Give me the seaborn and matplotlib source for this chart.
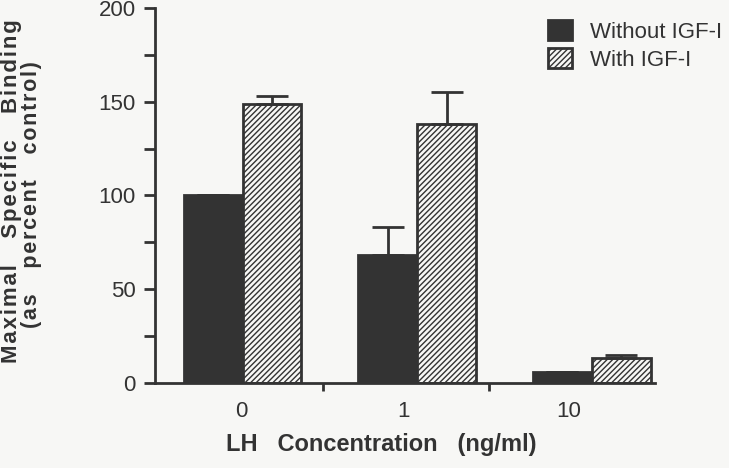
import pandas as pd
import seaborn as sns
from matplotlib import pyplot as plt
from matplotlib.ticker import MultipleLocator, FixedLocator

# Data
concentrations = ['0', '1', '10']
without_igf = [100, 68, 6]
with_igf = [149, 138, 13]
without_err = [0, 15, 0]
with_err = [4, 17, 2]
conditions = ['Without IGF-I', 'With IGF-I']

df = pd.DataFrame({
    'LH': concentrations * 2,
    'Binding': without_igf + with_igf,
    'Condition': [conditions[0]] * 3 + [conditions[1]] * 3,
})
errs = {conditions[0]: without_err, conditions[1]: with_err}


def spaced(text, sep, gap='  '):
    # letter-spaced text, like the typeset original
    words = [sep.join(w) for w in text.split(' ')]
    return (sep + gap).join(words)


sns.set_style('ticks')
plt.rcParams['font.family'] = ['Liberation Sans', 'DejaVu Sans']
plt.rcParams['hatch.linewidth'] = 1.0
plt.rcParams['hatch.color'] = '#333333'

ink = '#333333'
paper = '#f7f7f5'

fig = plt.figure(figsize=(7.29, 4.68), dpi=100)
fig.patch.set_facecolor(paper)
ax = fig.add_axes([0.213, 0.182, 0.685, 0.801])
ax.set_facecolor(paper)

sns.barplot(data=df, x='LH', y='Binding', hue='Condition', hue_order=conditions,
            palette=[ink, paper], width=0.674, gap=0,
            edgecolor=ink, linewidth=2, saturation=1, ax=ax)

# hatch the "with IGF-I" bars and add upper error bars
for cont, cond in zip(ax.containers, conditions):
    xs = [p.get_x() + p.get_width() / 2 for p in cont.patches]
    hs = [p.get_height() for p in cont.patches]
    if cond == conditions[1]:
        for p in cont.patches:
            p.set_hatch('//////')
    ax.errorbar(xs, hs, yerr=[[0] * 3, errs[cond]], fmt='none', ecolor=ink,
                elinewidth=2, capsize=11.5, capthick=2, zorder=1)

ax.set_ylim(0, 200)
ax.set_xlim(-0.5, 2.36)
ax.yaxis.set_major_locator(MultipleLocator(50))
ax.yaxis.set_minor_locator(MultipleLocator(25))
ax.xaxis.set_minor_locator(FixedLocator([0.46, 1.41]))
ax.set_xticks([-0.01, 0.92, 1.87])
ax.set_xticklabels(concentrations)
ax.tick_params(axis='x', which='major', length=0, pad=13, labelsize=16, colors=ink)
ax.tick_params(axis='x', which='minor', length=6, width=2, color=ink)
ax.tick_params(axis='y', which='both', length=8, width=2, labelsize=16,
               colors=ink, pad=6)
for s in ['left', 'bottom']:
    ax.spines[s].set_linewidth(2)
    ax.spines[s].set_color(ink)
sns.despine(ax=ax)

ax.set_xlabel('LH   Concentration   (ng/ml)', fontsize=17,
              fontweight='bold', color=ink)
ax.xaxis.set_label_coords(0.452, -0.135)
ax.set_ylabel('')

# two-line y label, placed as two rotated texts anchored on their baselines
fig.text(17.5 / 729, 1 - 191 / 468, spaced('Maximal Specific Binding', '\u200a', '    '),
         rotation=90, rotation_mode='anchor', ha='center', va='baseline',
         fontsize=16, fontweight='bold', color=ink)
fig.text(37.5 / 729, 1 - 195 / 468, spaced('(as percent control)', '\u200a', '    '),
         rotation=90, rotation_mode='anchor', ha='center', va='baseline',
         fontsize=15.5, fontweight='bold', color=ink)

leg = ax.legend(loc='upper left', bbox_to_anchor=(548 / 729, 1 - 20 / 468),
                bbox_transform=fig.transFigure, frameon=False, fontsize=16,
                handlelength=1.1, handleheight=1.0, handletextpad=0.8,
                labelspacing=0.25, borderpad=0, borderaxespad=0, labelcolor=ink)
leg.legend_handles[1].set_hatch('//////')

fig.savefig('out.png', dpi=100, facecolor=fig.get_facecolor())
